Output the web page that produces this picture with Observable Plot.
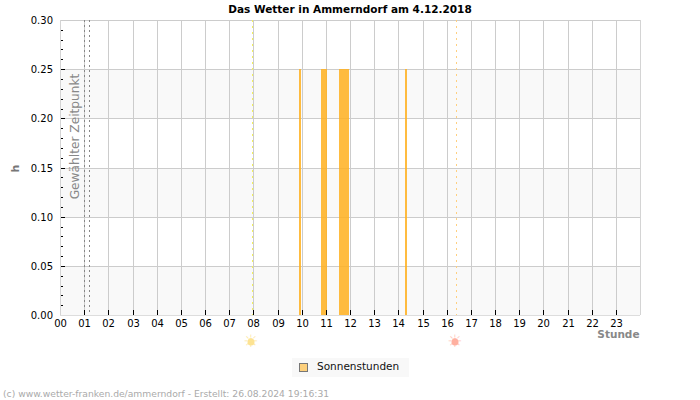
<!DOCTYPE html>
<html lang="de">
<head>
<meta charset="utf-8">
<script src="https://cdn.jsdelivr.net/npm/d3@7"></script>
<script src="https://cdn.jsdelivr.net/npm/@observablehq/plot@0.6"></script>
<style>
  html, body { margin: 0; padding: 0; background: #fff; }
  #page { position: relative; width: 700px; height: 400px; overflow: hidden; font-family: "DejaVu Sans", sans-serif; }
  #page svg { position: absolute; left: 0; top: 0; }
  .title { position: absolute; left: 0; width: 700px; top: 2px; text-align: center; font-size: 10.5px; font-weight: bold; color: #000; line-height: 14px; }
  .legend { position: absolute; left: 292px; top: 358px; width: 117px; height: 19px; background: #f8f8f8; font-size: 10.5px; line-height: 17px; color: #111; }
  .legend i { position: absolute; left: 7px; top: 5px; width: 7px; height: 7px; background: #fdd07c; border: 1px solid #777; }
  .legend span { position: absolute; left: 25px; top: 0; }
  .credit { position: absolute; left: 3px; top: 388px; font-size: 9.2px; line-height: 12px; color: #aaa; white-space: nowrap; }
</style>
</head>
<body>
<div id="page"></div>
<script>
const chartTitle = "Das Wetter in Ammerndorf am 4.12.2018";
const seriesName = "Sonnenstunden";
const creditLine = "(c) www.wetter-franken.de/ammerndorf - Erstellt: 26.08.2024 19:16:31";

// Sunshine intervals of the day, in decimal hours
const sunStart = [9.89, 10.8, 11.545, 14.275];
const sunEnd = [9.97, 11.05, 11.96, 14.36];
const sunValue = [0.25, 0.25, 0.25, 0.25];

const hours = d3.range(0, 24);
const majorY = [0, 0.05, 0.1, 0.15, 0.2, 0.25, 0.3];
const innerMajorY = [0.05, 0.1, 0.15, 0.2, 0.25];
const minorY = [
  0.01, 0.02, 0.03, 0.04, 0.06, 0.07, 0.08, 0.09, 0.11, 0.12, 0.13, 0.14,
  0.16, 0.17, 0.18, 0.19, 0.21, 0.22, 0.23, 0.24, 0.26, 0.27, 0.28, 0.29
];
const bandStart = [0, 0.1, 0.2];
const bandEnd = [0.05, 0.15, 0.25];

const selectedTimes = [1.0, 1.2];
const sunrise = 7.95;
const sunset = 16.39;

const bars = sunStart.map((start, i) => ({start, end: sunEnd[i], value: sunValue[i]}));
const bands = bandStart.map((start, i) => ({start, end: bandEnd[i]}));

const plot = Plot.plot({
  width: 700,
  height: 400,
  marginLeft: 60,
  marginRight: 60,
  marginTop: 20,
  marginBottom: 85,
  style: {background: "transparent", fontFamily: "DejaVu Sans", fontSize: "10px", color: "#000"},
  x: {domain: [0, 24], label: null, round: true},
  y: {domain: [0, 0.3], label: null, round: true},
  marks: [
    // Alternating background bands
    Plot.rectY(bands, {y1: "start", y2: "end", fill: "#f9f9f9", inset: 0}),
    // Grid
    Plot.ruleY(majorY, {stroke: "#cccccc", strokeWidth: 1}),
    Plot.ruleX(hours.slice(1), {stroke: "#cccccc", strokeWidth: 1}),
    // Plot frame
    Plot.ruleX([0, 24], {stroke: "#d4d4d4", strokeWidth: 1}),
    Plot.ruleY([0], {stroke: "#dddddd", strokeWidth: 1}),
    // Sunshine bars
    Plot.rectY(bars, {x1: "start", x2: "end", y1: 0, y2: "value", fill: "#ffb01e", fillOpacity: 0.85, inset: 0}),
    // Selected time and daylight markers
    Plot.ruleX(selectedTimes, {stroke: "#888888", strokeWidth: 1, strokeDasharray: "2,3"}),
    Plot.ruleX([sunrise], {stroke: "#f2f060", strokeWidth: 1, strokeDasharray: "2,4"}),
    Plot.ruleX([sunset], {stroke: "#ffd080", strokeWidth: 1, strokeDasharray: "2,4"}),
    Plot.text(["Gewählter Zeitpunkt"], {
      x: selectedTimes[0], y: 0.182, dx: -9, rotate: -90,
      fill: "#888888", fontSize: 12.2
    }),
    // Sun symbols under the axis at sunrise and sunset
    Plot.text(["☀"], {x: sunrise, y: 0, dy: 26, dx: -1.5, fill: "#fde9a8", fontSize: 17}),
    Plot.dot([sunrise], {x: (d) => d, y: 0, dy: 26.5, dx: -1.5, r: 3.5, fill: "#fde392"}),
    Plot.text(["☀"], {x: sunset, y: 0, dy: 26, dx: -1.5, fill: "#ffc8bc", fontSize: 17}),
    Plot.dot([sunset], {x: (d) => d, y: 0, dy: 26.5, dx: -1.5, r: 3.5, fill: "#ffb0a0"}),
    // Ticks point into the plot
    Plot.ruleY(innerMajorY, {x1: 0.04, x2: 0.2, stroke: "#000", strokeWidth: 1}),
    Plot.ruleY(minorY, {x1: 0.04, x2: 0.12, stroke: "#000", strokeWidth: 1}),
    Plot.ruleX(hours.slice(1), {y1: 0, y2: 0.005, stroke: "#000", strokeWidth: 1}),
    Plot.axisY({ticks: majorY, tickSize: 0, tickPadding: 7.5, tickFormat: d3.format(".2f"), label: null}),
    Plot.axisX({ticks: hours, tickSize: 0, tickPadding: 4, tickFormat: d3.format("02d"), label: null}),
    Plot.text(["Stunde"], {x: 24, y: 0, dy: 19, dx: -1, textAnchor: "end", fill: "#888888", fontWeight: "bold", fontSize: 10.5}),
    Plot.text(["h"], {x: 0, y: 0.15, dx: -45, rotate: -90, fill: "#777777", fontWeight: "bold", fontSize: 11})
  ]
});

const page = document.getElementById("page");
page.appendChild(plot);

const title = document.createElement("div");
title.className = "title";
title.textContent = chartTitle;
page.appendChild(title);

const legend = document.createElement("div");
legend.className = "legend";
legend.innerHTML = "<i></i><span></span>";
legend.querySelector("span").textContent = seriesName;
page.appendChild(legend);

const credit = document.createElement("div");
credit.className = "credit";
credit.textContent = creditLine;
page.appendChild(credit);
</script>
</body>
</html>
